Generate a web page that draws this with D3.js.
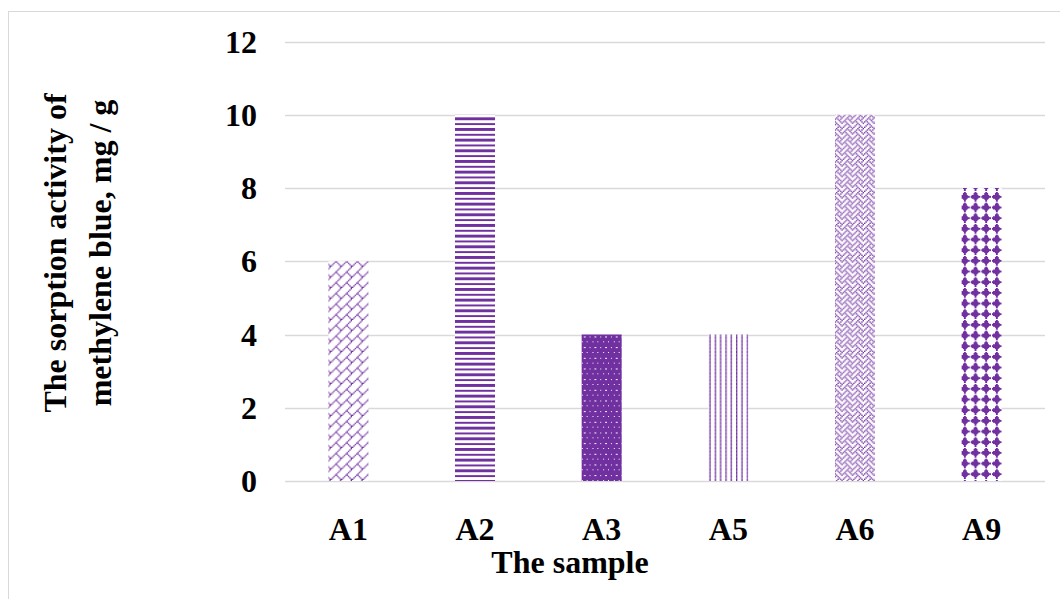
<!DOCTYPE html>
<html>
<head>
<meta charset="utf-8">
<script src="https://cdn.jsdelivr.net/npm/d3@7/dist/d3.min.js"></script>
<style>
  html, body { margin: 0; padding: 0; background: #fff; }
  svg { display: block; }
  text { font-family: "Liberation Serif", "Times New Roman", serif; font-weight: bold; fill: #000; }
</style>
</head>
<body>
<svg id="chart" width="1060" height="599"></svg>
<script>
// ---- data ----
const categories = ["A1", "A2", "A3", "A5", "A6", "A9"];
const values = [6, 10, 4, 4, 10, 8];
const yTicks = [0, 2, 4, 6, 8, 10, 12];
const patternNames = ["diagBrick", "darkHorizontal", "dotGrid", "lightVertical", "weave", "solidDiamond"];
const xTitle = "The sample";
const yTitleLines = ["The sorption activity of", "methylene blue, mg / g"];

// 8x8 pixel bitmaps (Excel-style pattern fills), 1 = foreground
const bitmaps = {
  diagBrick:      [0x01, 0x02, 0x04, 0x08, 0x18, 0x24, 0x42, 0x81],
  darkHorizontal: [0xff, 0xff, 0x00, 0x00, 0xff, 0xff, 0x00, 0x00],
  dotGrid:        [0x77, 0xff, 0xff, 0xff, 0xdd, 0xff, 0xff, 0xff],
  lightVertical:  [0x88, 0x88, 0x88, 0x88, 0x88, 0x88, 0x88, 0x88],
  weave:          [0x11, 0x2a, 0x44, 0xa2, 0x11, 0x28, 0x44, 0x8a],
  solidDiamond:   [0x10, 0x38, 0x7c, 0xfe, 0x7c, 0x38, 0x10, 0x00]
};
const crisp = { darkHorizontal: true, dotGrid: true, solidDiamond: true };
const color = "#7030A0";

const svg = d3.select("#chart");

// outer border (chart area)
svg.append("rect")
  .attr("x", 8.5).attr("y", 11.5)
  .attr("width", 1100).attr("height", 700)
  .attr("fill", "none").attr("stroke", "#d9d9d9").attr("stroke-width", 1);

// patterns
const px = 4 / 3;
const defs = svg.append("defs");
Object.entries(bitmaps).forEach(([name, rows]) => {
  const p = defs.append("pattern")
    .attr("id", name)
    .attr("patternUnits", "userSpaceOnUse")
    .attr("width", 8 * px).attr("height", 8 * px);
  p.append("rect").attr("width", 8 * px).attr("height", 8 * px).attr("fill", "#fff");
  rows.forEach((b, r) => {
    for (let c = 0; c < 8; c++) {
      if (b & (0x80 >> c)) {
        p.append("rect")
          .attr("x", c * px).attr("y", r * px)
          .attr("width", px + 0.01).attr("height", px + 0.01)
          .attr("fill", color)
          .attr("shape-rendering", crisp[name] ? "crispEdges" : null);
      }
    }
  });
});

// scales
const x = d3.scaleBand().domain(categories).range([285, 1045]).paddingInner(0.684).paddingOuter(0.342);
const y = d3.scaleLinear().domain([0, 12]).range([481, 41.5]);

// gridlines
svg.append("g")
  .selectAll("line")
  .data(yTicks)
  .join("line")
  .attr("x1", 285).attr("x2", 1045)
  .attr("y1", d => Math.round(y(d)) + 0.5)
  .attr("y2", d => Math.round(y(d)) + 0.5)
  .attr("stroke", "#d9d9d9").attr("stroke-width", 1.3);

// y tick labels
svg.append("g")
  .selectAll("text")
  .data(yTicks)
  .join("text")
  .attr("x", 257)
  .attr("y", d => y(d) + 11)
  .attr("text-anchor", "end")
  .attr("font-size", 32)
  .text(d => d);

// bars
svg.append("g")
  .selectAll("rect")
  .data(values)
  .join("rect")
  .attr("x", (d, i) => x(categories[i]))
  .attr("width", x.bandwidth())
  .attr("y", d => y(d))
  .attr("height", d => y(0) - y(d))
  .attr("fill", (d, i) => `url(#${patternNames[i]})`);

// x tick labels
svg.append("g")
  .selectAll("text")
  .data(categories)
  .join("text")
  .attr("x", d => x(d) + x.bandwidth() / 2)
  .attr("y", 540)
  .attr("text-anchor", "middle")
  .attr("font-size", 32)
  .text(d => d);

// x title
svg.append("text")
  .attr("x", 570).attr("y", 573)
  .attr("text-anchor", "middle")
  .attr("font-size", 32)
  .text(xTitle);

// y title
const yt = svg.append("text")
  .attr("transform", "translate(0,253) rotate(-90)")
  .attr("text-anchor", "middle")
  .attr("font-size", 32);
yt.selectAll("tspan")
  .data(yTitleLines)
  .join("tspan")
  .attr("x", 0)
  .attr("y", (d, i) => [66, 111][i])
  .text(d => d);
</script>
</body>
</html>
